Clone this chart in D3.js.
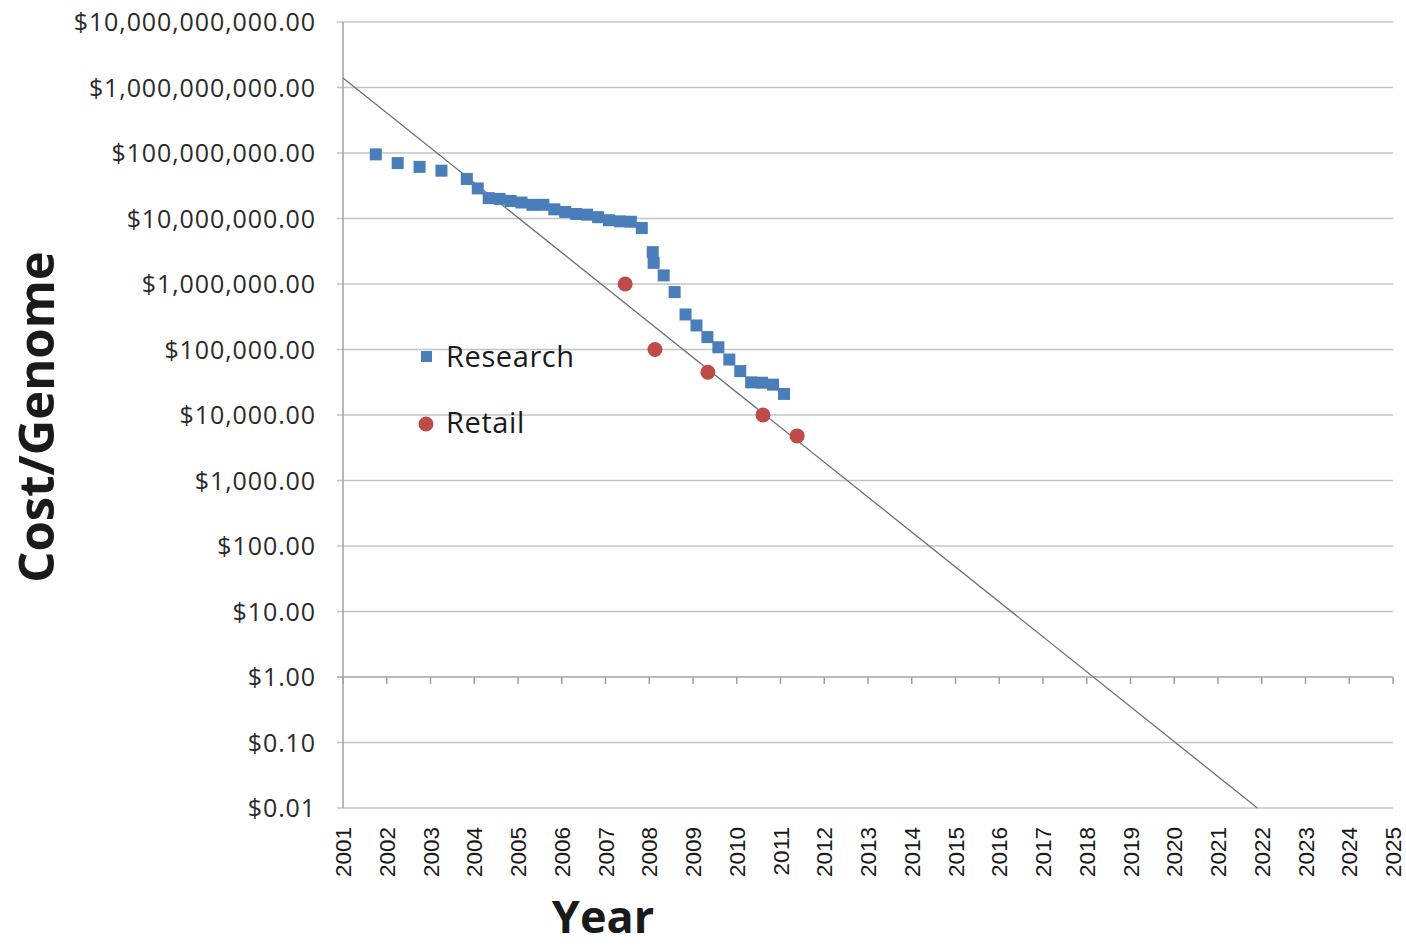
<!DOCTYPE html>
<html>
<head>
  <title>Cost per Genome</title>
  <style>
    body {
      background-color: white;
      margin: 0;
      padding: 0;
    }
    svg text {
      fill: #1a1a1a;
    }
  </style>
</head>
<body>
  <div id="chart-container"></div>

  <script src="https://d3js.org/d3.v7.min.js"></script>
  <script>
    // Research cost per genome (decimal year, dollars)
    const researchYears = [
      2001.75, 2002.25, 2002.75, 2003.25, 2003.83,
      2004.08, 2004.33, 2004.58, 2004.83,
      2005.08, 2005.33, 2005.58, 2005.83,
      2006.08, 2006.33, 2006.58, 2006.83,
      2007.08, 2007.33, 2007.58, 2007.83,
      2008.08, 2008.1, 2008.33, 2008.58, 2008.83,
      2009.08, 2009.33, 2009.58, 2009.83,
      2010.08, 2010.33, 2010.58, 2010.83, 2011.08
    ];
    const researchCosts = [
      95263072, 70175437, 61448422, 53751684, 40157554,
      28780376, 20442576, 19934346, 18519312,
      17534970, 16159699, 16180224, 13801124,
      12585659, 11732535, 11455315, 10474556,
      9408739, 9047003, 8927342, 7147571,
      3063820, 2100000, 1352982, 752080, 342502,
      232735, 154714, 108065, 70333,
      46774, 31512, 31125, 29092, 20963
    ];

    // Retail cost per genome
    const retailYears = [2007.45, 2008.13, 2009.34, 2010.6, 2011.38];
    const retailCosts = [1000000, 100000, 45000, 10000, 4800];

    // Trend line end points
    const trendYears = [2001, 2021.9];
    const trendCosts = [1.4e9, 0.01];

    // Axis ticks
    const yearTicks = d3.range(2001, 2026);
    const costTicks = [0.01, 0.1, 1, 10, 100, 1000, 10000, 100000, 1000000,
                       10000000, 100000000, 1000000000, 10000000000];

    const width = 1406, height = 949;
    const plotLeft = 343, plotRight = 1393, plotTop = 22, plotBottom = 808;

    const svg = d3.select('#chart-container').append('svg')
      .attr('width', width)
      .attr('height', height);

    const x = d3.scaleLinear().domain([2001, 2025]).range([plotLeft, plotRight]);
    const y = d3.scaleLog().domain([0.01, 1e10]).range([plotBottom, plotTop]);

    const money = d3.format('$,.2f');

    // gridlines
    svg.selectAll('.grid')
      .data(costTicks)
      .enter()
      .append('line')
      .attr('x1', plotLeft - 6)
      .attr('x2', plotRight)
      .attr('y1', d => y(d))
      .attr('y2', d => y(d))
      .style('stroke', d => d === 1 ? '#a6a6a6' : '#c4c4c4')
      .style('stroke-width', 1.5);

    // y axis line
    svg.append('line')
      .attr('x1', plotLeft).attr('x2', plotLeft)
      .attr('y1', plotTop).attr('y2', plotBottom)
      .style('stroke', '#a0a0a0')
      .style('stroke-width', 1.5);

    // y labels
    svg.selectAll('.ylab')
      .data(costTicks)
      .enter()
      .append('text')
      .attr('x', plotLeft - 27)
      .attr('y', d => y(d))
      .attr('dy', '0.36em')
      .attr('text-anchor', 'end')
      .style('font-family', '"Open Sans", sans-serif')
      .style('font-size', '25px')
      .style('letter-spacing', '0.9px')
      .style('fill', '#2a2a2a')
      .text(d => money(d));

    // x axis crosses at $1.00, ticks pointing down
    svg.selectAll('.xtick')
      .data(yearTicks)
      .enter()
      .append('line')
      .attr('x1', d => x(d)).attr('x2', d => x(d))
      .attr('y1', y(1)).attr('y2', y(1) + 7)
      .style('stroke', '#a0a0a0')
      .style('stroke-width', 1.5);

    // x labels at the bottom
    svg.selectAll('.xlab')
      .data(yearTicks)
      .enter()
      .append('text')
      .attr('transform', d => `translate(${x(d)},${plotBottom + 19}) rotate(-90)`)
      .attr('dy', '0.36em')
      .attr('text-anchor', 'end')
      .style('font-family', '"Liberation Sans", Arial, sans-serif')
      .style('font-size', '22.5px')
      .text(d => d);

    // trend line
    svg.append('line')
      .attr('x1', x(trendYears[0])).attr('y1', y(trendCosts[0]))
      .attr('x2', x(trendYears[1])).attr('y2', y(trendCosts[1]))
      .style('stroke', '#6e6e6e')
      .style('stroke-width', 1.3);

    // research squares
    const research = researchYears.map((yr, i) => ({ year: yr, cost: researchCosts[i] }));
    svg.selectAll('.research')
      .data(research)
      .enter()
      .append('rect')
      .attr('x', d => x(d.year) - 6)
      .attr('y', d => y(d.cost) - 6)
      .attr('width', 12)
      .attr('height', 12)
      .style('fill', '#4a7ebb');

    // retail circles
    const retail = retailYears.map((yr, i) => ({ year: yr, cost: retailCosts[i] }));
    svg.selectAll('.retail')
      .data(retail)
      .enter()
      .append('circle')
      .attr('cx', d => x(d.year))
      .attr('cy', d => y(d.cost))
      .attr('r', 7.5)
      .style('fill', '#be4b48');

    // legend
    svg.append('rect')
      .attr('x', 421).attr('y', 351)
      .attr('width', 11).attr('height', 11)
      .style('fill', '#4a7ebb');
    svg.append('text')
      .attr('x', 446).attr('y', 357)
      .attr('dy', '0.36em')
      .style('font-family', '"Open Sans", sans-serif')
      .style('font-size', '29px')
      .style('letter-spacing', '0.6px')
      .text('Research');
    svg.append('circle')
      .attr('cx', 426).attr('cy', 424)
      .attr('r', 7.5)
      .style('fill', '#be4b48');
    svg.append('text')
      .attr('x', 446).attr('y', 423)
      .attr('dy', '0.36em')
      .style('font-family', '"Open Sans", sans-serif')
      .style('font-size', '29px')
      .style('letter-spacing', '0.6px')
      .text('Retail');

    // axis titles
    svg.append('text')
      .attr('transform', `translate(36,${(plotTop + plotBottom) / 2 + 2}) rotate(-90)`)
      .attr('dy', '0.36em')
      .attr('text-anchor', 'middle')
      .style('font-family', '"Open Sans", sans-serif')
      .style('font-weight', 'bold')
      .style('font-size', '49px')
      .text('Cost/Genome');

    svg.append('text')
      .attr('x', 603).attr('y', 933)
      .attr('text-anchor', 'middle')
      .style('font-family', '"Open Sans", sans-serif')
      .style('font-weight', 'bold')
      .style('font-size', '45px')
      .text('Year');
  </script>
</body>
</html>
